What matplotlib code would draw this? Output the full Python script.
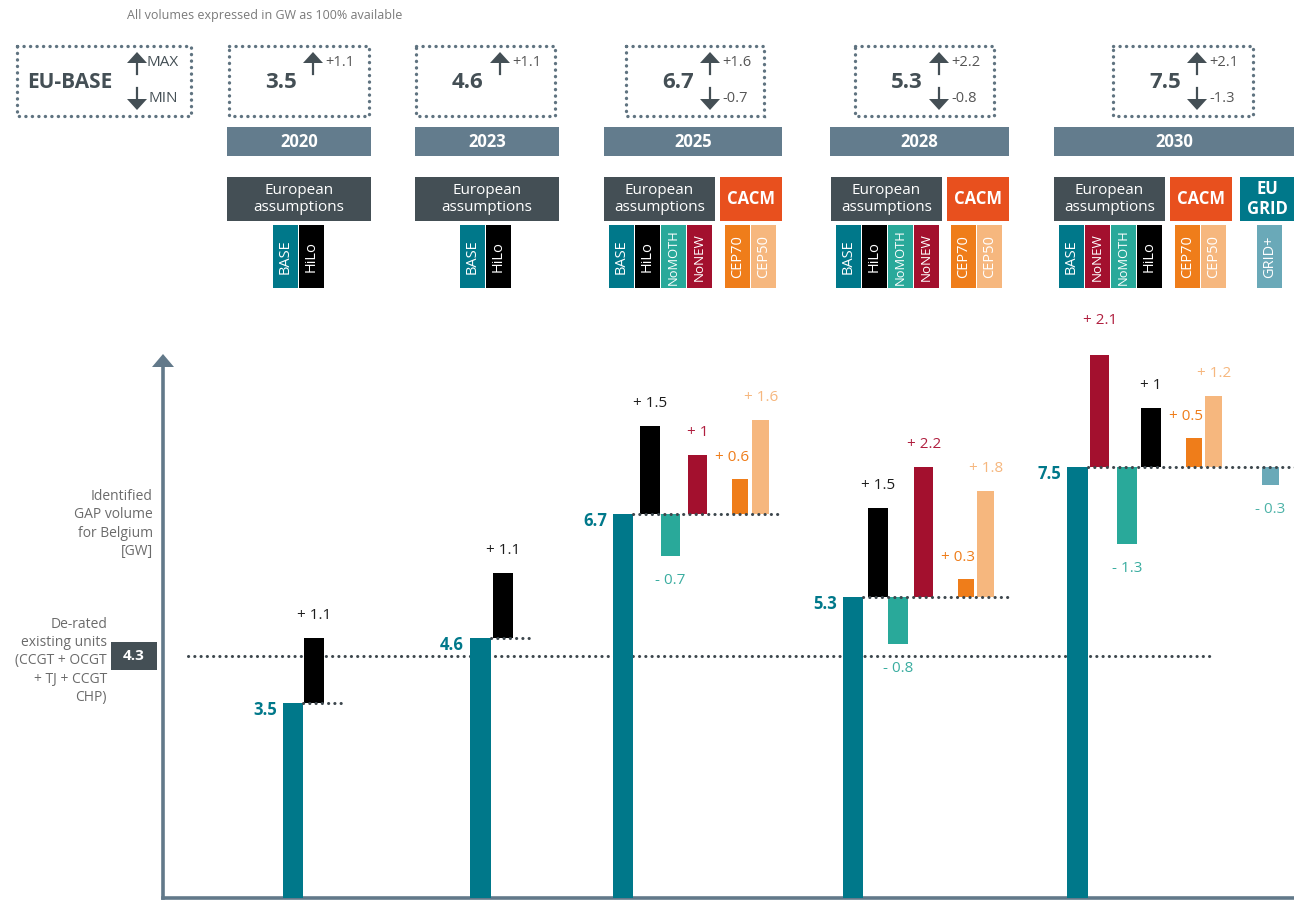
import matplotlib.pyplot as plt
from matplotlib.patches import Rectangle, Polygon

plt.rcParams['font.family'] = ['Open Sans', 'DejaVu Sans']

W, H = 1294, 900

# ---- data ----
years = ["2020", "2023", "2025", "2028", "2030"]
base_gap = [3.5, 4.6, 6.7, 5.3, 7.5]
max_delta = [1.1, 1.1, 1.6, 2.2, 2.1]
min_delta = [None, None, -0.7, -0.8, -1.3]
derated_units = 4.3

scenarios = [
    ["HiLo"],
    ["HiLo"],
    ["HiLo", "NoMOTH", "NoNEW", "CEP70", "CEP50"],
    ["HiLo", "NoMOTH", "NoNEW", "CEP70", "CEP50"],
    ["NoNEW", "NoMOTH", "HiLo", "CEP70", "CEP50", "GRID+"],
]
deltas = [
    [1.1],
    [1.1],
    [1.5, -0.7, 1.0, 0.6, 1.6],
    [1.5, -0.8, 2.2, 0.3, 1.8],
    [2.1, -1.3, 1.0, 0.5, 1.2, -0.3],
]

# ---- layout (bar-width units) ----
group_x = [5.85, 14.98, 21.95, 33.17, 44.1]
bar_offset = [
    [1.02],
    [1.12],
    [1.32, 2.34, 3.66, 5.8, 6.78],
    [1.22, 2.2, 3.46, 5.6, 6.54],
    [1.12, 2.44, 3.6, 5.8, 6.73, 9.5],
]
line_end = [3.0, 3.0, 8.25, 8.3, 11.1]
derated_span = (1.22, 51.07)

colors = {"BASE": "#00788a", "HiLo": "#000000", "NoMOTH": "#29a99a",
          "NoNEW": "#a3102e", "CEP70": "#ef7d1a", "CEP50": "#f6b77e",
          "GRID+": "#6aa9b8"}
label_colors = {"HiLo": "#1e1e1e", "NoMOTH": "#3aada0", "NoNEW": "#b01f3f",
                "CEP70": "#ef7d1a", "CEP50": "#f6b77e", "GRID+": "#4db3a8"}
widths = {"HiLo": 0.98, "NoMOTH": 0.95, "NoNEW": 0.95, "CEP70": 0.78,
          "CEP50": 0.85, "GRID+": 0.83}
family = {"BASE": 0, "HiLo": 0, "NoMOTH": 0, "NoNEW": 0,
          "CEP70": 1, "CEP50": 1, "GRID+": 2}

AXIS_C = "#62798a"
DARK = "#444f55"
DOT_C = "#3d474d"
DOTS = (0, (0.05, 2.0))

fig = plt.figure(figsize=(W / 100, H / 100), dpi=100)

# ---- main chart ----
ax = fig.add_axes([163 / W, 2 / H, (W - 163) / W, (898 - 355) / H])
ax.set_facecolor("none")
ax.set_xlim(0, (W - 163) / 20.5)
y0 = 0.195
ax.set_ylim(y0, y0 + 543 / 59)
for s in ("top", "right"):
    ax.spines[s].set_visible(False)
for s in ("left", "bottom"):
    ax.spines[s].set_color(AXIS_C)
    ax.spines[s].set_linewidth(2.6)
ax.spines["left"].set_bounds(y0, y0 + 530 / 59)
ax.set_xticks([])
ax.set_yticks([])

ax.plot(derated_span, [derated_units] * 2, ls=DOTS, color=DOT_C,
        lw=2.2, dash_capstyle="round", zorder=1)

for i, yr in enumerate(years):
    gx, b = group_x[i], base_gap[i]
    ax.bar(gx, b, width=1.0, align="edge", color=colors["BASE"], zorder=3)
    ax.plot([gx + 1, gx + line_end[i]], [b, b], ls=DOTS, color=DOT_C,
            lw=2.2, dash_capstyle="round", zorder=4)
    ax.text(gx - 0.3, b - 0.12, f"{b:g}", ha="right", va="center",
            fontsize=12, fontweight="bold", color=colors["BASE"])
    for s, d, off in zip(scenarios[i], deltas[i], bar_offset[i]):
        w = widths[s]
        x = gx + off
        ax.bar(x, d, width=w, bottom=b, align="edge", color=colors[s],
               zorder=3)
        txt = f"+ {d:g}" if d > 0 else f"- {abs(d):g}"
        if d > 0:
            ty = b + d + 0.38
        else:
            ty = b + d - 0.42
        if s == "CEP70":
            ax.text(x + w + 0.05, ty - 0.02, txt, ha="right", va="center",
                    fontsize=11, color=label_colors[s])
        else:
            ax.text(x + w / 2, ty, txt, ha="center", va="center",
                    fontsize=11, color=label_colors[s])

# ---- header / annotation layer in pixel coordinates ----
hd = fig.add_axes([0, 0, 1, 1], zorder=-1)
hd.set_xlim(0, W)
hd.set_ylim(H, 0)
hd.axis("off")

# y-axis arrow head
hd.add_patch(Polygon([[152, 367], [174, 367], [163, 354]], closed=True,
                     color=AXIS_C, lw=0))

hd.text(127, 16, "All volumes expressed in GW as 100% available",
        ha="left", va="center", fontsize=9, color="#7a7a7a")


def dotted_box(x0, y0_, x1, y1):
    hd.add_patch(Rectangle((x0, y0_), x1 - x0, y1 - y0_, fill=False,
                           ec="#5f7380", lw=2.4, ls=(0, (0.05, 1.9)),
                           capstyle="round"))


def up_arrow(x):
    hd.add_patch(Polygon([[x - 10, 63], [x + 10, 63], [x, 52]], closed=True,
                         color=DARK, lw=0))
    hd.plot([x, x], [63, 74], color=DARK, lw=1.6)


def down_arrow(x):
    hd.add_patch(Polygon([[x - 10, 99], [x + 10, 99], [x, 110]], closed=True,
                         color=DARK, lw=0))
    hd.plot([x, x], [88, 99], color=DARK, lw=1.6)


# legend box
dotted_box(17, 46, 191, 116)
hd.text(27, 82, "EU-BASE", ha="left", va="center", fontsize=15,
        fontweight="bold", color=DARK)
up_arrow(137)
down_arrow(137)
hd.text(146, 63, "MAX", ha="left", va="center", fontsize=11, color=DARK)
hd.text(149, 99, "MIN", ha="left", va="center", fontsize=11, color=DARK)

box_x = [(229, 369), (416, 555), (626, 764), (855, 994), (1113, 1253)]
year_span = [(227, 371), (415, 559), (604, 782), (830, 1009), (1054, 1294)]
cat_span = [
    [(227, 371)],
    [(415, 559)],
    [(604, 715), (720, 782)],
    [(831, 942), (947, 1009)],
    [(1054, 1165), (1170, 1232), (1240, 1294)],
]
cat_label = ["European\nassumptions", "CACM", "EU\nGRID"]
cat_color = [DARK, "#e8501e", "#00788a"]
tag_start = [[273], [460], [609, 725], [836, 951], [1059, 1175, 1257]]
tag_size = {"NoMOTH": 9.3, "NoNEW": 9.6}

for i, yr in enumerate(years):
    bx0, bx1 = box_x[i]
    dotted_box(bx0, 46, bx1, 116)
    hd.text(bx0 + 52, 83, f"{base_gap[i]:g}", ha="center", va="center",
            fontsize=16, fontweight="bold", color=DARK)
    ax_x = bx0 + 84
    up_arrow(ax_x)
    hd.text(ax_x + 12, 63, f"+{max_delta[i]:g}", ha="left", va="center",
            fontsize=10.5, color="#555555")
    if min_delta[i] is not None:
        down_arrow(ax_x)
        hd.text(ax_x + 12, 99, f"{min_delta[i]:g}", ha="left", va="center",
                fontsize=10.5, color="#555555")

    yx0, yx1 = year_span[i]
    hd.add_patch(Rectangle((yx0, 127), yx1 - yx0, 29, color="#637c8d", lw=0))
    hd.text((yx0 + yx1) / 2, 142, yr, ha="center", va="center",
            fontsize=12, fontweight="bold", color="white")

    for k, (cx0, cx1) in enumerate(cat_span[i]):
        hd.add_patch(Rectangle((cx0, 177), cx1 - cx0, 44, color=cat_color[k],
                               lw=0))
        hd.text((cx0 + cx1) / 2, 199, cat_label[k], ha="center", va="center",
                fontsize=11 if k == 0 else 12,
                fontweight="normal" if k == 0 else "bold",
                color="white", linespacing=1.1)

    tags = ["BASE"] + scenarios[i]
    for k, start in enumerate(tag_start[i]):
        fam_tags = [t for t in tags if family[t] == k]
        for j, t in enumerate(fam_tags):
            tx = start + j * 26
            hd.add_patch(Rectangle((tx, 225), 25, 63, color=colors[t], lw=0))
            hd.text(tx + 12.5, 257, t, ha="center", va="center", rotation=90,
                    fontsize=tag_size.get(t, 10.5), color="white")

# left annotations tied to the chart scale
y43 = H - ax.transData.transform((0, derated_units))[1]
hd.add_patch(Rectangle((111, y43 - 14), 46, 28, color=DARK, lw=0))
hd.text(134, y43, f"{derated_units:g}", ha="center", va="center",
        fontsize=11, fontweight="bold", color="white")
hd.text(107, y43 + 5, "De-rated\nexisting units\n(CCGT + OCGT\n+ TJ + CCGT\nCHP)",
        ha="right", va="center", fontsize=10, color="#6b6b6b",
        linespacing=1.3)
hd.text(153, 524, "Identified\nGAP volume\nfor Belgium\n[GW]", ha="right",
        va="center", fontsize=10, color="#6b6b6b", linespacing=1.3)

fig.savefig("out.png", dpi=100)
